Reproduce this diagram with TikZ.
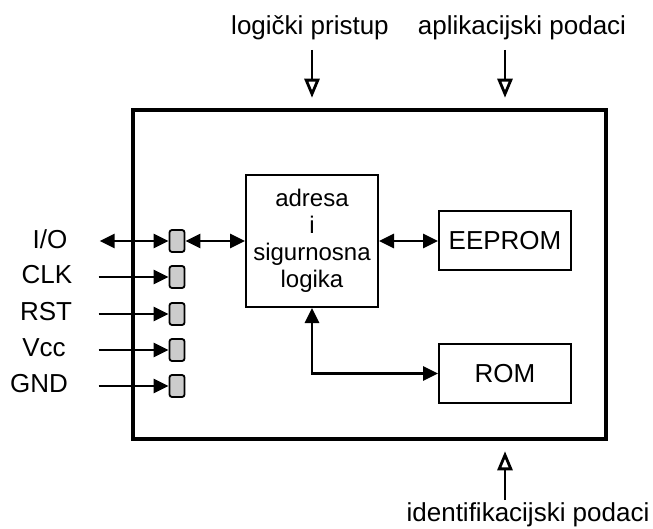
\documentclass[tikz,border=0pt]{standalone}
\usepackage{fontspec}
\setmainfont{Liberation Sans}
\usetikzlibrary{arrows.meta}

\begin{document}
\begin{tikzpicture}[x=1pt,y=-1pt,
	txt/.style={font=\fontsize{26}{27}\selectfont},
	blok/.style={draw,line width=2pt,txt,inner sep=0pt},
	pin/.style={draw,line width=1.8pt,fill=gray!40,rounded corners=2.5pt,minimum width=15pt,minimum height=22pt,inner sep=0pt},
	sig/.style={line width=2.8pt,-{Triangle[length=15pt,width=14pt]}},
	bus/.style={line width=2.8pt,{Triangle[length=15pt,width=14pt]}-{Triangle[length=15pt,width=14pt]}},
	ulaz/.style={line width=2.8pt,-{Triangle[open,length=19pt,width=15pt,fill=white]},shorten >=10pt}]
	\useasboundingbox (0,0) rectangle (653,529);
	\node[draw,line width=4.5pt,minimum width=473pt,minimum height=329pt] (kartica) at (369.5,274.5) {};
	\node[blok,minimum width=132pt,minimum height=132pt,align=center,font=\fontsize{24}{27}\selectfont] (logika) at (312,241) {adresa\\i\\sigurnosna\\logika};
	\node[blok,minimum width=132pt,minimum height=59pt] (eeprom) at (505,241) {EEPROM};
	\node[blok,minimum width=132pt,minimum height=59pt] (rom) at (505,373.5) {ROM};
	\foreach \n/\y in {1/241,2/277,3/314,4/350,5/386}
		\node[pin] (p\n) at (177,\y) {};
	\foreach \n/\t/\x in {1/{I/O}/50,2/CLK/47,3/RST/46,4/Vcc/44,5/GND/39}
		\node[txt,yshift=2pt] (s\n) at (p\n -| \x,0) {\t};
	\draw[bus] (p1.west) -- ++(-69,0);
	\foreach \n in {2,...,5}
		\draw[sig] ([xshift=-70pt]p\n.west) -- (p\n.west);
	\path[bus]
	(p1) edge (logika)
	(logika) edge (eeprom);
	\draw[bus] (logika) |- (rom);
	\node[txt] (lp) at (310,28) {logički pristup};
	\node[txt] (ap) at (522,28) {aplikacijski podaci};
	\node[txt] (ip) at (528,515) {identifikacijski podaci};
	\coordinate (lpUlaz) at (312,50);
	\coordinate (apUlaz) at (505,50);
	\coordinate (ipUlaz) at (505,500);
	\draw[ulaz] (lpUlaz) -- (lpUlaz |- kartica.north);
	\draw[ulaz] (apUlaz) -- (apUlaz |- kartica.north);
	\draw[ulaz] (ipUlaz) -- (ipUlaz |- kartica.south);
\end{tikzpicture}
\end{document}
